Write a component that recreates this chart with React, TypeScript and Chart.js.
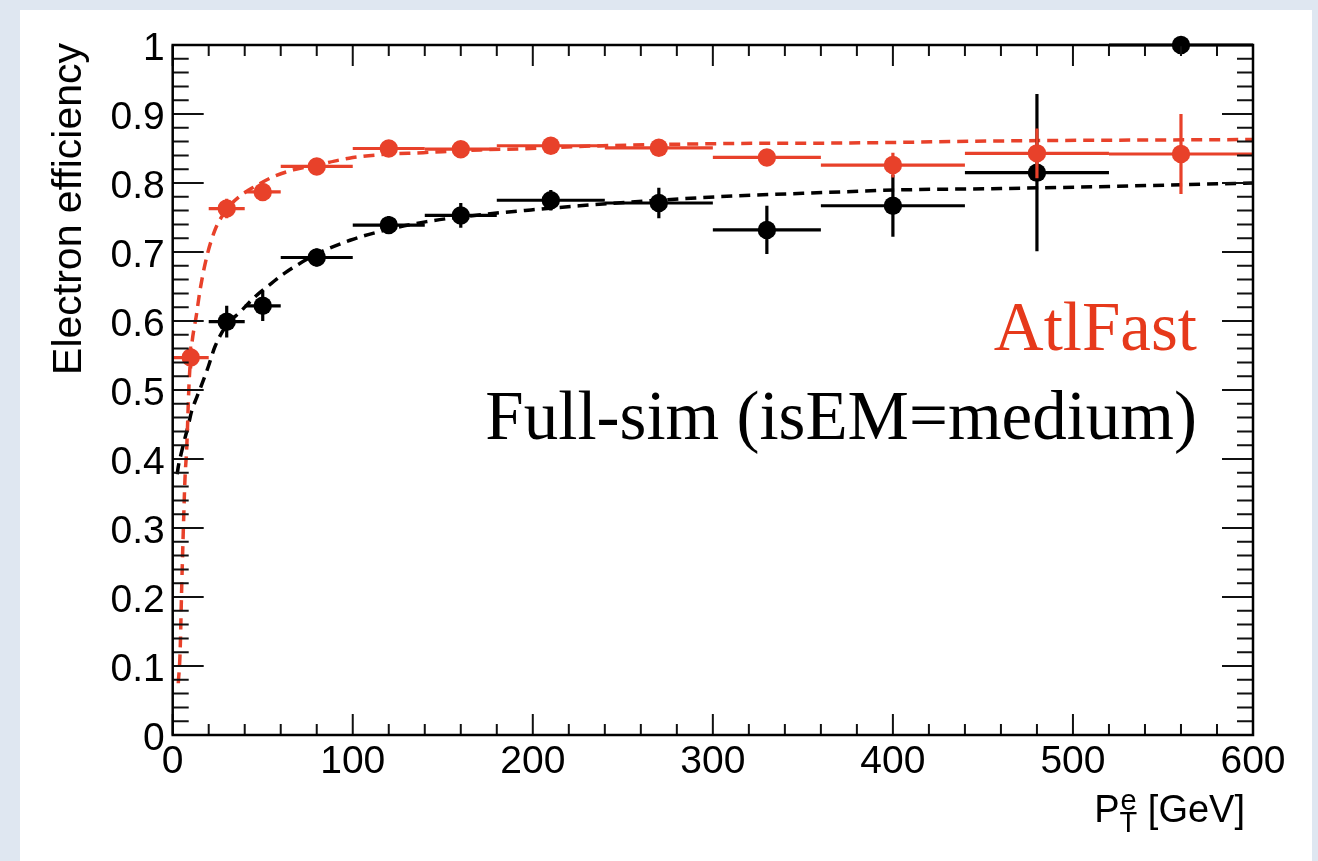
import React, { useEffect, useRef } from "react";
import { Chart, registerables } from "chart.js";

Chart.register(...registerables);

// ---- data ----
const binCenters = [10, 30, 50, 80, 120, 160, 210, 270, 330, 400, 480, 560];
const binLow = [0, 20, 40, 60, 100, 140, 180, 240, 300, 360, 440, 520];
const binHigh = [20, 40, 60, 100, 140, 180, 240, 300, 360, 440, 520, 600];

const atlFastEff = [0.547, 0.763, 0.787, 0.824, 0.850, 0.849, 0.854, 0.851, 0.837, 0.826, 0.843, 0.842];
const atlFastErr = [0.016, 0.014, 0.012, 0.010, 0.012, 0.007, 0.007, 0.007, 0.007, 0.018, 0.036, 0.058];

const fullSimEff: (number | null)[] = [null, 0.599, 0.622, 0.692, 0.739, 0.753, 0.775, 0.771, 0.732, 0.767, 0.815, 1.0];
const fullSimErr: (number | null)[] = [null, 0.023, 0.022, 0.013, 0.013, 0.018, 0.015, 0.022, 0.035, 0.045, 0.114, 0.0];

// fitted curves (dashed)
const atlFastFitX = [3.1, 4.1, 5.0, 5.9, 6.8, 7.8, 9.1, 10.2, 13.3, 15.2, 18.9, 23.5, 27.2, 32, 40, 45, 55, 67, 80, 98, 115, 139, 171, 199, 226, 302, 376, 460, 600];
const atlFastFitY = [0.075, 0.119, 0.214, 0.297, 0.370, 0.417, 0.510, 0.555, 0.611, 0.645, 0.693, 0.732, 0.751, 0.768, 0.786, 0.794, 0.808, 0.819, 0.826, 0.836, 0.841, 0.844, 0.848, 0.850, 0.853, 0.857, 0.858, 0.861, 0.863];

const fullSimFitX = [2.5, 3.1, 5.0, 6.8, 8.7, 10.5, 13.3, 16, 19.8, 23.5, 30, 37.4, 45.7, 55, 61.4, 80, 98.5, 117, 141, 171, 199, 226, 270, 302, 350, 404, 460, 520, 600];
const fullSimFitY = [0.378, 0.389, 0.411, 0.430, 0.449, 0.469, 0.489, 0.507, 0.534, 0.563, 0.594, 0.613, 0.635, 0.655, 0.668, 0.697, 0.717, 0.731, 0.744, 0.754, 0.761, 0.767, 0.775, 0.780, 0.785, 0.790, 0.792, 0.795, 0.800];

// ---- ticks ----
const xTickValues = [0, 100, 200, 300, 400, 500, 600];
const xTickLabels = ["0", "100", "200", "300", "400", "500", "600"];
const yTickValues = [0, 0.1, 0.2, 0.3, 0.4, 0.5, 0.6, 0.7, 0.8, 0.9, 1];
const yTickLabels = ["0", "0.1", "0.2", "0.3", "0.4", "0.5", "0.6", "0.7", "0.8", "0.9", "1"];
const xMinorStep = 20;
const yMinorStep = 0.02;

const RED = "#e8412a";
const RED_TEXT = "#e6391b";
const BLACK = "#000000";
const SANS = '"Liberation Sans", Arial, Helvetica, sans-serif';
const SERIF = '"Liberation Serif", "Times New Roman", serif';

function buildBars(eff: (number | null)[], err: (number | null)[]) {
  return binCenters.map((c, i) => ({ x: c, lo: binLow[i], hi: binHigh[i], y: eff[i], e: err[i] }));
}

const errorBarPlugin = {
  id: "errorBars",
  beforeDatasetDraw(chart: any, args: any) {
    const ds = chart.data.datasets[args.index];
    if (!ds.errBars) return;
    const xs = chart.scales.x;
    const ys = chart.scales.y;
    const ctx = chart.ctx;
    ctx.save();
    ctx.strokeStyle = ds.backgroundColor;
    ctx.lineWidth = 3.2;
    ctx.lineCap = "butt";
    ds.errBars.forEach((b: any) => {
      if (b.y == null) return;
      const py = ys.getPixelForValue(b.y);
      ctx.beginPath();
      ctx.moveTo(xs.getPixelForValue(b.lo), py);
      ctx.lineTo(xs.getPixelForValue(b.hi), py);
      if (b.e && b.e > 0) {
        const px = xs.getPixelForValue(b.x);
        ctx.moveTo(px, ys.getPixelForValue(b.y - b.e));
        ctx.lineTo(px, ys.getPixelForValue(b.y + b.e));
      }
      ctx.stroke();
    });
    ctx.restore();
  },
};

const framePlugin = {
  id: "frame",
  afterDraw(chart: any) {
    const { ctx, chartArea } = chart;
    const xs = chart.scales.x;
    const ys = chart.scales.y;
    const { left, right, top, bottom } = chartArea;
    ctx.save();
    // ticks
    ctx.strokeStyle = "#111";
    ctx.lineWidth = 2;
    ctx.beginPath();
    for (let v = 0; v <= 600 + 1e-9; v += xMinorStep) {
      const px = xs.getPixelForValue(v);
      const major = xTickValues.some((t) => Math.abs(t - v) < 1e-6);
      const lb = major ? 21 : 11;
      ctx.moveTo(px, bottom);
      ctx.lineTo(px, bottom - lb);
      ctx.moveTo(px, top);
      ctx.lineTo(px, top + lb);
    }
    for (let k = 0; k <= 50; k++) {
      const v = k * yMinorStep;
      const py = ys.getPixelForValue(v);
      const major = yTickValues.some((t) => Math.abs(t - v) < 1e-6);
      const l = major ? 31 : 16;
      ctx.moveTo(left, py);
      ctx.lineTo(left + l, py);
      ctx.moveTo(right, py);
      ctx.lineTo(right - l, py);
    }
    ctx.stroke();
    // frame
    ctx.strokeStyle = "#000";
    ctx.lineWidth = 2.5;
    ctx.strokeRect(left, top, right - left, bottom - top);

    // y title
    ctx.fillStyle = "#000";
    ctx.save();
    ctx.translate(81, 43);
    ctx.rotate(-Math.PI / 2);
    ctx.font = `41px ${SANS}`;
    ctx.textAlign = "right";
    ctx.textBaseline = "alphabetic";
    ctx.fillText("Electron efficiency", 0, 0);
    ctx.restore();

    // x title: P_T^e [GeV]
    const mainFont = `38px ${SANS}`;
    const scriptFont = `29px ${SANS}`;
    ctx.textAlign = "left";
    ctx.textBaseline = "alphabetic";
    ctx.font = mainFont;
    const tail = " [GeV]";
    const wTail = ctx.measureText(tail).width;
    const wP = ctx.measureText("P").width;
    ctx.font = scriptFont;
    const ws = Math.max(ctx.measureText("T").width, ctx.measureText("e").width);
    const xEnd = 1245;
    const xTail = xEnd - wTail;
    const xScript = xTail - ws;
    const xP = xScript - wP;
    ctx.font = mainFont;
    ctx.fillText("P", xP, 822);
    ctx.fillText(tail, xTail, 822);
    ctx.font = scriptFont;
    ctx.fillText("e", xScript + 1, 810);
    ctx.fillText("T", xScript, 832);

    // annotations
    ctx.font = `69px ${SERIF}`;
    ctx.textAlign = "right";
    ctx.fillStyle = RED_TEXT;
    ctx.fillText("AtlFast", 1197, 350);
    ctx.fillStyle = "#000";
    ctx.fillText("Full-sim (isEM=medium)", 1197, 439);
    ctx.restore();
  },
};

export default function App() {
  const canvasRef = useRef<HTMLCanvasElement | null>(null);

  useEffect(() => {
    if (!canvasRef.current) return;
    const chart = new Chart(canvasRef.current, {
      type: "scatter",
      data: {
        datasets: [
          {
            label: "AtlFast",
            data: binCenters.map((x, i) => ({ x, y: atlFastEff[i] })),
            backgroundColor: RED,
            borderColor: RED,
            borderWidth: 0,
            pointRadius: 9.2,
            pointHoverRadius: 9.2,
            clip: false,
            errBars: buildBars(atlFastEff, atlFastErr),
          } as any,
          {
            label: "Full-sim",
            data: binCenters
              .map((x, i) => ({ x, y: fullSimEff[i] }))
              .filter((p) => p.y != null),
            backgroundColor: BLACK,
            borderColor: BLACK,
            borderWidth: 0,
            pointRadius: 9.2,
            pointHoverRadius: 9.2,
            clip: false,
            errBars: buildBars(fullSimEff, fullSimErr),
          } as any,
          {
            type: "line",
            label: "AtlFast fit",
            data: atlFastFitX.map((x, i) => ({ x, y: atlFastFitY[i] })),
            borderColor: RED,
            borderWidth: 3.5,
            borderDash: [11, 7],
            pointRadius: 0,
            fill: false,
            cubicInterpolationMode: "monotone",
          } as any,
          {
            type: "line",
            label: "Full-sim fit",
            data: fullSimFitX.map((x, i) => ({ x, y: fullSimFitY[i] })),
            borderColor: BLACK,
            borderWidth: 3.5,
            borderDash: [11, 7],
            pointRadius: 0,
            fill: false,
            cubicInterpolationMode: "monotone",
          } as any,
        ],
      },
      options: {
        animation: false,
        responsive: true,
        maintainAspectRatio: false,
        devicePixelRatio: 1,
        events: [],
        layout: { padding: { left: 0, top: 45, right: 65, bottom: 0 } },
        plugins: { legend: { display: false }, tooltip: { enabled: false } },
        scales: {
          x: {
            type: "linear",
            min: 0,
            max: 600,
            grid: { display: false, drawTicks: false },
            border: { display: false },
            ticks: {
              font: { family: SANS, size: 39 },
              color: "#000",
              padding: 4,
              autoSkip: false,
              maxRotation: 0,
              minRotation: 0,
              callback: (_v: any, i: number) => xTickLabels[i],
            },
            afterBuildTicks: (s: any) => {
              s.ticks = xTickValues.map((v) => ({ value: v }));
            },
            afterFit: (s: any) => {
              s.height = 126;
            },
          },
          y: {
            type: "linear",
            min: 0,
            max: 1,
            grid: { display: false, drawTicks: false },
            border: { display: false },
            ticks: {
              font: { family: SANS, size: 39 },
              color: "#000",
              padding: 8,
              labelOffset: 4,
              autoSkip: false,
              callback: (_v: any, i: number) => yTickLabels[i],
            },
            afterBuildTicks: (s: any) => {
              s.ticks = yTickValues.map((v) => ({ value: v }));
            },
            afterFit: (s: any) => {
              s.width = 172.7;
            },
          },
        },
      } as any,
      plugins: [errorBarPlugin, framePlugin],
    });
    return () => chart.destroy();
  }, []);

  return (
    <div
      style={{
        position: "fixed",
        left: 0,
        top: 0,
        width: 1318,
        height: 861,
        background: "#dfe7f1",
        overflow: "hidden",
      }}
    >
      <div
        style={{
          position: "absolute",
          left: 20,
          top: 10,
          width: 1292,
          height: 861,
          background: "#ffffff",
        }}
      />
      <div style={{ position: "absolute", left: 0, top: 0, width: 1318, height: 861 }}>
        <canvas ref={canvasRef} />
      </div>
    </div>
  );
}
